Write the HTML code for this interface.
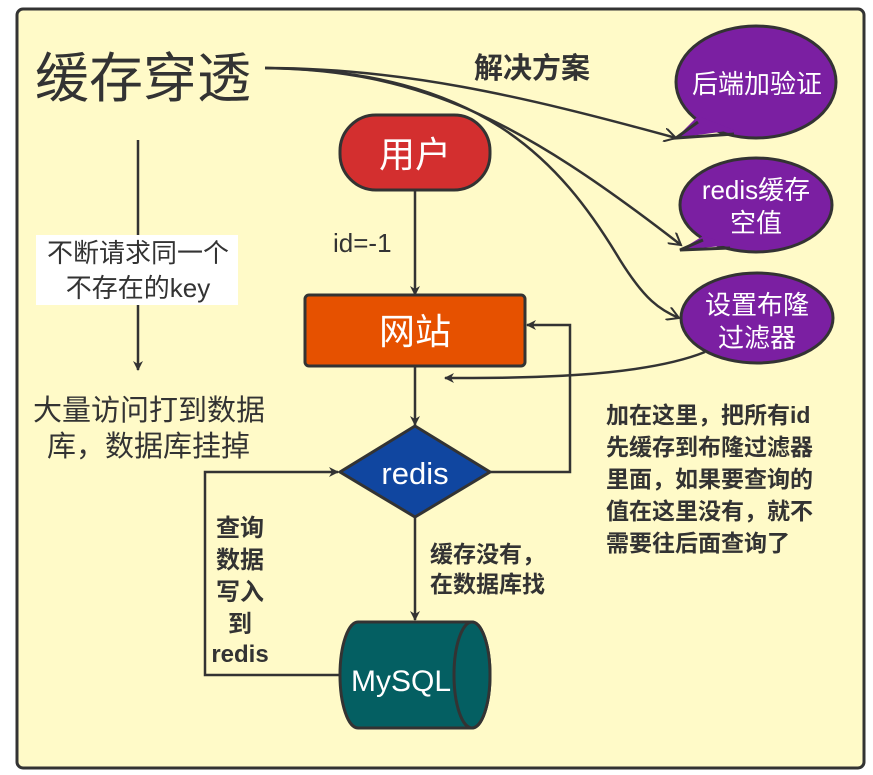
<!DOCTYPE html>
<html><head><meta charset="utf-8"><style>
body{margin:0;background:#fff;}
svg{display:block;font-family:"Liberation Sans","Noto Sans CJK SC",sans-serif;}
</style></head><body>
<svg width="873" height="775" viewBox="0 0 873 775">
<defs>
<marker id="a" markerWidth="10" markerHeight="10" refX="9" refY="5" orient="auto" markerUnits="userSpaceOnUse"><path d="M0,0 L10,5 L0,10 L3,5 z" fill="#333"/></marker>
<marker id="o" markerWidth="14" markerHeight="14" refX="12" refY="7" orient="auto" markerUnits="userSpaceOnUse"><path d="M0,0 L12,7 L0,14" fill="none" stroke="#333" stroke-width="2"/></marker>
</defs>
<rect x="17" y="9" width="847" height="759" rx="6" fill="#fffac8" stroke="#333" stroke-width="3"/>
<text x="35" y="97" font-size="54" fill="#333">缓存穿透</text>
<text x="474" y="78" font-size="29" font-weight="bold" fill="#333">解决方案</text>
<g fill="none" stroke="#333" stroke-width="2.5">
<path d="M265,68 C400,68 520,95 676,138" marker-end="url(#o)"/>
<path d="M265,68 C420,70 520,120 681,245" marker-end="url(#o)"/>
<path d="M265,68 C480,70 560,160 620,260 C645,300 660,310 679,318" marker-end="url(#o)"/>
</g>
<g fill="#7b1fa2" stroke="#333" stroke-width="3">
<ellipse cx="756" cy="82" rx="80" ry="56"/>
<ellipse cx="756" cy="205" rx="76" ry="47"/>
<ellipse cx="757" cy="318" rx="76" ry="45"/>
</g>
<g fill="#7b1fa2">
<polygon points="698,116 734,130 676,138"/>
<polygon points="703,236 732,245 680,250"/>
</g>
<g fill="none" stroke="#333" stroke-width="3">
<polyline points="698,122 676,138 734,134"/>
<polyline points="703,240 680,250 730,248"/>
</g>
<path d="M705,352 C640,378 520,378 445,378" fill="none" stroke="#333" stroke-width="2.5" marker-end="url(#a)"/>
<g fill="#fff" font-size="26" text-anchor="middle">
<text x="757" y="93">后端加验证</text>
<text x="756" y="199">redis缓存</text>
<text x="756" y="232">空值</text>
<text x="757" y="314">设置布隆</text>
<text x="757" y="347">过滤器</text>
</g>
<line x1="138" y1="140" x2="138" y2="370" stroke="#333" stroke-width="2.5" marker-end="url(#a)"/>
<rect x="36" y="235" width="202" height="70" fill="#fff"/>
<g fill="#333" font-size="26" text-anchor="middle">
<text x="138" y="262">不断请求同一个</text>
<text x="138" y="297">不存在的key</text>
</g>
<g fill="#333" font-size="29">
<text x="33" y="420">大量访问打到数据</text>
<text x="47" y="456">库，数据库挂掉</text>
</g>
<rect x="340" y="115" width="150" height="75" rx="36" fill="#d32f2f" stroke="#333" stroke-width="3"/>
<text x="415" y="167" font-size="36" fill="#fff" text-anchor="middle">用户</text>
<line x1="415" y1="190" x2="415" y2="295" stroke="#333" stroke-width="2.5" marker-end="url(#a)"/>
<text x="333" y="252" font-size="26" fill="#333">id=-1</text>
<rect x="305" y="295" width="220" height="71" rx="4" fill="#e65100" stroke="#333" stroke-width="3"/>
<text x="415" y="344" font-size="36" fill="#fff" text-anchor="middle">网站</text>
<line x1="415" y1="366" x2="415" y2="425" stroke="#333" stroke-width="2.5" marker-end="url(#a)"/>
<polygon points="415,426 490,472 415,517 340,472" fill="#1046a0" stroke="#333" stroke-width="3"/>
<text x="415" y="484" font-size="31" fill="#fff" text-anchor="middle">redis</text>
<polyline points="490,472 570,472 570,325 527,325" fill="none" stroke="#333" stroke-width="2.5" marker-end="url(#a)"/>
<line x1="415" y1="517" x2="415" y2="620" stroke="#333" stroke-width="2.5" marker-end="url(#a)"/>
<polyline points="342,675 205,675 205,472 338,472" fill="none" stroke="#333" stroke-width="2.5" marker-end="url(#a)"/>
<path d="M358,622 L472,622 A18,53 0 0 1 472,728 L358,728 A18,53 0 0 1 358,622 Z" fill="#045f62" stroke="#333" stroke-width="3"/>
<ellipse cx="472" cy="675" rx="18" ry="53" fill="#045f62" stroke="#333" stroke-width="3"/>
<text x="401" y="691" font-size="30" fill="#fff" text-anchor="middle">MySQL</text>
<g fill="#333" font-size="23" font-weight="bold">
<text x="430" y="562">缓存没有，</text>
<text x="430" y="592">在数据库找</text>
</g>
<g fill="#333" font-size="24" font-weight="bold" text-anchor="middle">
<text x="240" y="536">查询</text>
<text x="240" y="568">数据</text>
<text x="240" y="600">写入</text>
<text x="240" y="632">到</text>
<text x="240" y="662">redis</text>
</g>
<g fill="#333" font-size="23" font-weight="bold">
<text x="606" y="423">加在这里，把所有id</text>
<text x="606" y="455">先缓存到布隆过滤器</text>
<text x="606" y="487">里面，如果要查询的</text>
<text x="606" y="519">值在这里没有，就不</text>
<text x="606" y="551">需要往后面查询了</text>
</g>
</svg>
</body></html>
